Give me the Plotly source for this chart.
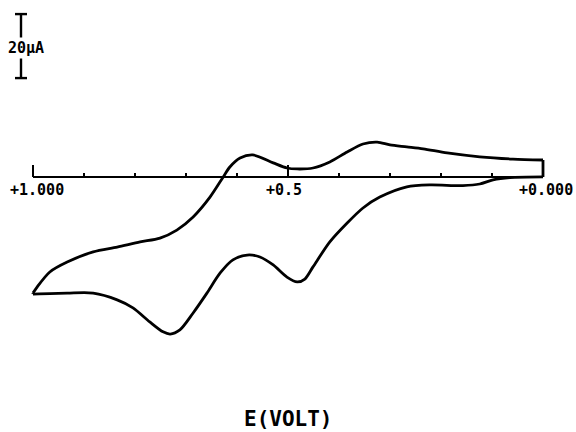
import plotly.graph_objects as go

# Potential (V) and current (uA)
# Cathodic (lower) branch: +1.000 V -> 0.000 V
e_lower = [1.000, 0.933, 0.882, 0.835, 0.804, 0.771, 0.745, 0.731, 0.712, 0.686,
           0.659, 0.633, 0.608, 0.580, 0.555, 0.529, 0.502, 0.482, 0.467, 0.451,
           0.418, 0.384, 0.353, 0.320, 0.267, 0.222, 0.157, 0.124, 0.098, 0.065,
           0.000]
i_lower = [-36.6, -36.3, -36.3, -38.4, -40.9, -45.3, -48.4, -49.1, -47.8, -42.5,
           -36.3, -30.0, -25.9, -24.4, -25.0, -27.5, -31.3, -32.8, -31.9, -28.1,
           -20.3, -14.4, -9.7, -6.3, -3.1, -2.5, -2.7, -2.2, -0.9, -0.2,
           0.0]
# Anodic (upper) branch: 0.000 V -> +1.000 V
e_upper = [0.000, 0.059, 0.124, 0.188, 0.235, 0.267, 0.300, 0.325, 0.353, 0.384,
           0.418, 0.451, 0.482, 0.502, 0.529, 0.569, 0.594, 0.614, 0.627, 0.653,
           0.686, 0.718, 0.751, 0.790, 0.835, 0.882, 0.933, 0.967, 0.992, 1.000]
i_upper = [5.3, 5.6, 6.3, 7.5, 8.8, 9.4, 10.0, 10.9, 10.3, 7.8,
           4.7, 2.8, 2.5, 2.8, 4.4, 6.9, 5.9, 3.1, 0.0, -6.3,
           -12.5, -16.6, -19.1, -20.3, -21.9, -23.4, -26.6, -29.7, -34.4, -36.3]

minor_ticks = [0.9, 0.8, 0.7, 0.6, 0.4, 0.3, 0.2, 0.1]
major_ticks = [1.0, 0.5, 0.0]
tick_labels = ["+1.000", "+0.5", "+0.000"]
scale_bar_uA = 20
scale_bar_label = "20\u00b5A"
x_title = "E(VOLT)"

# view window (data units)
X_RANGE = [1.0647, -0.0647]
Y_RANGE = [-79.7, 55.3]
UA_PER_PX = (Y_RANGE[1] - Y_RANGE[0]) / 432
V_PER_PX = (X_RANGE[0] - X_RANGE[1]) / 576

FONT = "DejaVu Sans Mono"
fig = go.Figure()

curve_line = dict(color="black", width=2.8, shape="spline", smoothing=0.8)
# voltammogram branches
fig.add_trace(go.Scatter(x=e_lower, y=i_lower, mode="lines", line=curve_line,
                         hoverinfo="skip", showlegend=False))
fig.add_trace(go.Scatter(x=e_upper, y=i_upper, mode="lines", line=curve_line,
                         hoverinfo="skip", showlegend=False))
# switching-potential joins
fig.add_trace(go.Scatter(
    x=[e_lower[-1], e_upper[0], None, e_upper[-1], e_lower[0]],
    y=[i_lower[-1], i_upper[0], None, i_upper[-1], i_lower[0]],
    mode="lines", line=dict(color="black", width=2.8),
    hoverinfo="skip", showlegend=False))

# potential axis at zero current with ticks
ax_x, ax_y = [max(major_ticks), min(major_ticks)], [0, 0]
minor_len = 4 * UA_PER_PX
major_len = 12 * UA_PER_PX
for t in minor_ticks:
    ax_x += [None, t, t]
    ax_y += [None, 0, minor_len]
for t in major_ticks:
    ax_x += [None, t, t]
    ax_y += [None, 0, major_len]
fig.add_trace(go.Scatter(x=ax_x, y=ax_y, mode="lines",
                         line=dict(color="black", width=2),
                         hoverinfo="skip", showlegend=False))

for t, lab, dx in zip(major_ticks, tick_labels, [4, -4, 3]):
    fig.add_annotation(x=t, y=0, text=lab, showarrow=False, xanchor="center",
                       yanchor="middle", yshift=-13, xshift=dx,
                       font=dict(family=FONT, size=15, color="black", weight="bold"))

# current scale bar (20 uA)
bar_top = 50.9
bar_x = 1.0 + 12 * V_PER_PX
bar_bot = bar_top - scale_bar_uA
cap = 6 * V_PER_PX
sb_x = [bar_x, bar_x, None, bar_x - cap, bar_x + cap, None, bar_x - cap, bar_x + cap]
sb_y = [bar_top, bar_bot, None, bar_top, bar_top, None, bar_bot, bar_bot]
fig.add_trace(go.Scatter(x=sb_x, y=sb_y, mode="lines",
                         line=dict(color="black", width=2.4),
                         hoverinfo="skip", showlegend=False))
fig.add_annotation(x=bar_x, y=(bar_top + bar_bot) / 2 - 0.6, text=scale_bar_label,
                   showarrow=False, xanchor="center", yanchor="middle", xshift=5,
                   bgcolor="white", borderpad=1,
                   font=dict(family=FONT, size=15, color="black", weight="bold"))

# axis title
fig.add_annotation(x=0.5, y=-75.6, text=x_title, showarrow=False,
                   xanchor="center", yanchor="middle",
                   font=dict(family=FONT, size=21, color="black", weight="bold"))

fig.update_layout(
    width=576, height=432, margin=dict(l=0, r=0, t=0, b=0),
    paper_bgcolor="white", plot_bgcolor="white",
    xaxis=dict(range=X_RANGE, visible=False, fixedrange=True),
    yaxis=dict(range=Y_RANGE, visible=False, fixedrange=True),
)
fig.write_html("out.html", config={"displayModeBar": False},
               post_script="document.body.style.margin='0';document.body.style.padding='0';")
